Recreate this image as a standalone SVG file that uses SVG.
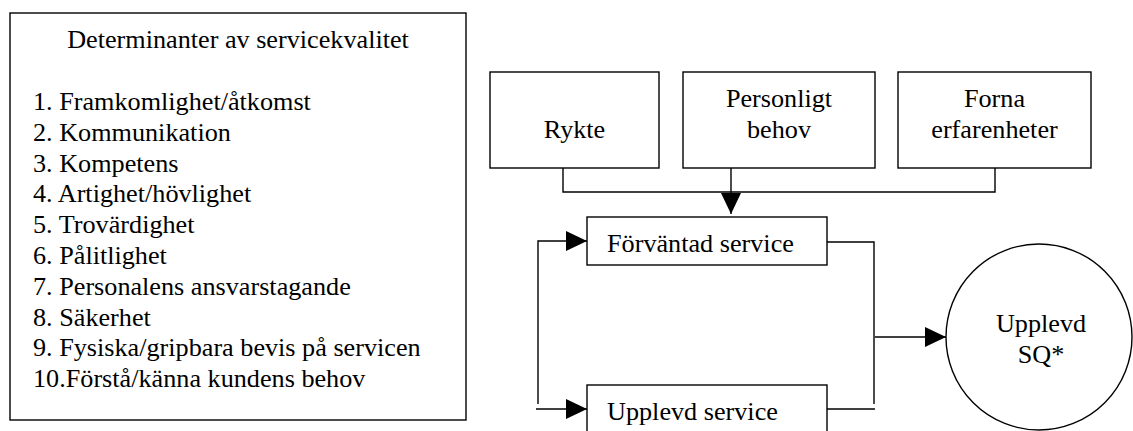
<svg xmlns="http://www.w3.org/2000/svg" width="1133" height="431" viewBox="0 0 1133 431">
<style>
.box{fill:#fff;stroke:#000;stroke-width:1.4}
.ln{fill:none;stroke:#000;stroke-width:1.4}
.t{font-family:"Liberation Serif","Times New Roman",serif;font-size:26.2px;fill:#000}
.c{text-anchor:middle}
</style>
<defs>
<marker id="ah" viewBox="0 0 21 20" refX="21" refY="10" markerWidth="21" markerHeight="20" markerUnits="userSpaceOnUse" orient="auto">
<path d="M0,0 L21,10 L0,20 z" fill="#000"/>
</marker>
</defs>
<rect width="1133" height="431" fill="#fff"/>
<g id="determinanter">
<rect class="box" x="10" y="13" width="456" height="407"/>
<text class="t c" x="238" y="48">Determinanter av servicekvalitet</text>
<text class="t" x="33" y="110">1. Framkomlighet/åtkomst</text>
<text class="t" x="33" y="140.8">2. Kommunikation</text>
<text class="t" x="33" y="171.6">3. Kompetens</text>
<text class="t" x="33" y="202.4">4. Artighet/hövlighet</text>
<text class="t" x="33" y="233.2">5. Trovärdighet</text>
<text class="t" x="33" y="264">6. Pålitlighet</text>
<text class="t" x="33" y="294.8">7. Personalens ansvarstagande</text>
<text class="t" x="33" y="325.6">8. Säkerhet</text>
<text class="t" x="33" y="356.4">9. Fysiska/gripbara bevis på servicen</text>
<text class="t" x="33" y="387.2">10.Förstå/känna kundens behov</text>
</g>
<g id="connectors">
<path class="ln" d="M563,168 V192 H995 V168"/>
<path class="ln" d="M731,168 V214" marker-end="url(#ah)"/>
<path class="ln" d="M538,404 V241 H587" marker-end="url(#ah)"/>
<path class="ln" d="M536,409 H587" marker-end="url(#ah)"/>
<path class="ln" d="M827,242 H874 V404"/>
<path class="ln" d="M827,409 H875"/>
<path class="ln" d="M875,337 H946" marker-end="url(#ah)"/>
</g>
<g id="rykte">
<rect class="box" x="490" y="72" width="169" height="96"/>
<text class="t c" x="574.5" y="138">Rykte</text>
</g>
<g id="personligt-behov">
<rect class="box" x="683" y="72" width="192" height="96"/>
<text class="t c" x="779" y="107">Personligt</text>
<text class="t c" x="779" y="138">behov</text>
</g>
<g id="forna-erfarenheter">
<rect class="box" x="898" y="72" width="193" height="96"/>
<text class="t c" x="994.5" y="107">Forna</text>
<text class="t c" x="994.5" y="138">erfarenheter</text>
</g>
<g id="forvantad-service">
<rect class="box" x="587" y="217" width="240" height="48"/>
<text class="t" x="607" y="252">Förväntad service</text>
</g>
<g id="upplevd-service">
<rect class="box" x="587" y="385" width="240" height="60"/>
<text class="t" x="607" y="420">Upplevd service</text>
</g>
<g id="upplevd-sq">
<circle class="box" cx="1039" cy="337" r="93"/>
<text class="t c" x="1041" y="332">Upplevd</text>
<text class="t c" x="1041" y="363">SQ*</text>
</g>
</svg>
